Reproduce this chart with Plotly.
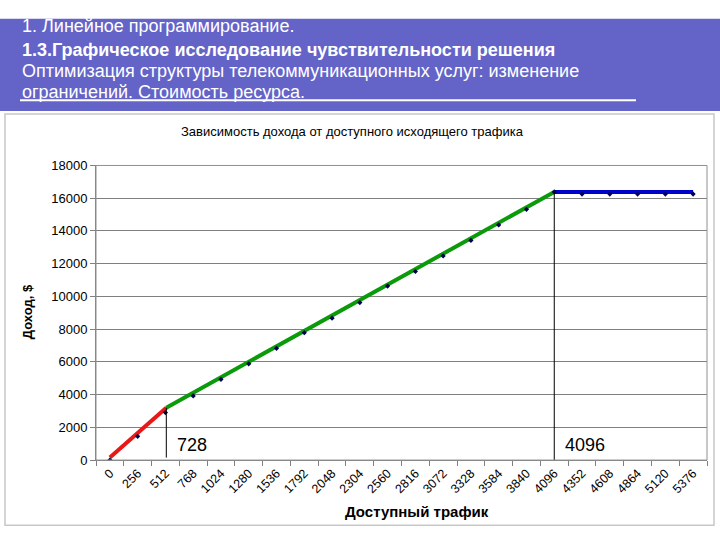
import plotly.graph_objects as go

# ---- data ----
traffic = [0, 256, 512, 768, 1024, 1280, 1536, 1792, 2048, 2304, 2560,
           2816, 3072, 3328, 3584, 3840, 4096, 4352, 4608, 4864, 5120, 5376]
tick_labels = [str(v) for v in traffic]
revenue = [0, 1450, 2900, 3920, 4930, 5880, 6830, 7780, 8670, 9620, 10630,
           11520, 12470, 13420, 14370, 15320, 16384, 16250, 16250, 16250, 16250, 16250]

red_x = [0, 520]
red_y = [150, 3200]
green_x = [520, 4096]
green_y = [3200, 16384]
blue_x = [4096, 5376]
blue_y = [16384, 16384]

vline_x = [520, 4096]
vline_top = [3200, 16384]
vline_bottom = [150, 0]
vline_labels = ["728", "4096"]

title_lines = [
    ("1. Линейное программирование.", False),
    ("1.3.Графическое исследование чувствительности решения", True),
    ("Оптимизация структуры телекоммуникационных услуг: изменение", False),
    ("ограничений. Стоимость ресурса.", False),
]
chart_title = "Зависимость дохода от доступного исходящего трафика"
x_title = "Доступный трафик"
y_title = "Доход, $"

W, H = 720, 540
px_l, px_r, px_t, px_b = 96, 707, 163, 466

FONT = "Liberation Sans, Arial, sans-serif"

fig = go.Figure()

fig.add_trace(go.Scatter(x=red_x, y=red_y, mode="lines",
                         line=dict(color="#E81818", width=4), showlegend=False))
fig.add_trace(go.Scatter(x=green_x, y=green_y, mode="lines",
                         line=dict(color="#0A9A0A", width=4), showlegend=False))
fig.add_trace(go.Scatter(x=blue_x, y=blue_y, mode="lines",
                         line=dict(color="#0000CC", width=4), showlegend=False))
fig.add_trace(go.Scatter(x=traffic, y=revenue, mode="markers",
                         marker=dict(color="#000050", size=4, symbol="diamond"),
                         showlegend=False))

for vx, vt, vb, lab in zip(vline_x, vline_top, vline_bottom, vline_labels):
    fig.add_trace(go.Scatter(x=[vx, vx], y=[vb, vt], mode="lines",
                             line=dict(color="black", width=1), showlegend=False))
    fig.add_annotation(x=vx, y=950, xref="x", yref="y", text=lab, showarrow=False,
                       xanchor="left", yanchor="middle", xshift=9,
                       font=dict(family=FONT, size=18, color="black"))

shapes = []
# top banner
shapes.append(dict(type="rect", xref="paper", yref="paper", x0=0, x1=1,
                   y0=1 - 107 / H, y1=1 - 12 / H, fillcolor="#6464C8", line=dict(width=0), layer="below"))
# underline in banner
shapes.append(dict(type="line", xref="paper", yref="paper", x0=20 / W, x1=636 / W,
                   y0=1 - 96 / H, y1=1 - 96 / H, line=dict(color="white", width=2)))
# chart box
shapes.append(dict(type="rect", xref="paper", yref="paper", x0=5 / W, x1=714 / W,
                   y0=1 - 533 / H, y1=1 - 110 / H, fillcolor="white",
                   line=dict(color="#C8C8C8", width=1.5), layer="below"))
# plot-area border
shapes.append(dict(type="rect", xref="x domain", yref="y domain", x0=0, x1=1, y0=0, y1=1,
                   line=dict(color="#909090", width=1)))
fig.update_layout(shapes=shapes)

annotations = []
ys = [20, 44, 66, 87]
for (txt, bold), yy in zip(title_lines, ys):
    annotations.append(dict(x=20 / W, y=1 - yy / H, xref="paper", yref="paper",
                             text=f"<b>{txt}</b>" if bold else txt, showarrow=False,
                             xanchor="left", yanchor="middle",
                             font=dict(family=FONT, size=18, color="white")))
annotations.append(dict(x=352 / W, y=1 - 128 / H, xref="paper", yref="paper",
                        text=chart_title, showarrow=False,
                        xanchor="center", yanchor="middle",
                        font=dict(family=FONT, size=13, color="black")))
annotations.append(dict(x=417 / W, y=1 - 519 / H, xref="paper", yref="paper",
                        text=f"<b>{x_title}</b>", showarrow=False,
                        xanchor="center", yanchor="middle",
                        font=dict(family=FONT, size=15, color="black")))
annotations.append(dict(x=27 / W, y=1 - 314 / H, xref="paper", yref="paper",
                        text=f"<b>{y_title}</b>", showarrow=False, textangle=-90,
                        xanchor="center", yanchor="middle",
                        font=dict(family=FONT, size=13, color="black")))
for a in annotations:
    fig.add_annotation(**a)

fig.update_layout(
    width=W, height=H,
    margin=dict(l=0, r=0, t=0, b=0),
    paper_bgcolor="white",
    plot_bgcolor="#C0C0C0",
    xaxis=dict(domain=[px_l / W, px_r / W], range=[-128, 5504],
               tickvals=traffic, ticktext=tick_labels, tickangle=-45,
               ticks="", showgrid=False, zeroline=False,
               showline=True, linecolor="#808080", linewidth=1,
               tickfont=dict(family=FONT, size=12.5, color="black"),
               minor=dict(ticks="outside", tick0=-128, dtick=256, ticklen=5,
                          tickcolor="#808080", showgrid=False)),
    yaxis=dict(domain=[1 - px_b / H, 1 - px_t / H], range=[0, 18000], dtick=2000,
               tickformat="d",
               showgrid=True, gridcolor="#808080", gridwidth=1, zeroline=False,
               showline=True, linecolor="#808080", ticks="outside", ticklen=5,
               tickcolor="#808080",
               tickfont=dict(family=FONT, size=13, color="black")),
)

fig.write_html("out.html", config={"displayModeBar": False},
               post_script="document.body.style.margin='0';document.body.style.padding='0';")
